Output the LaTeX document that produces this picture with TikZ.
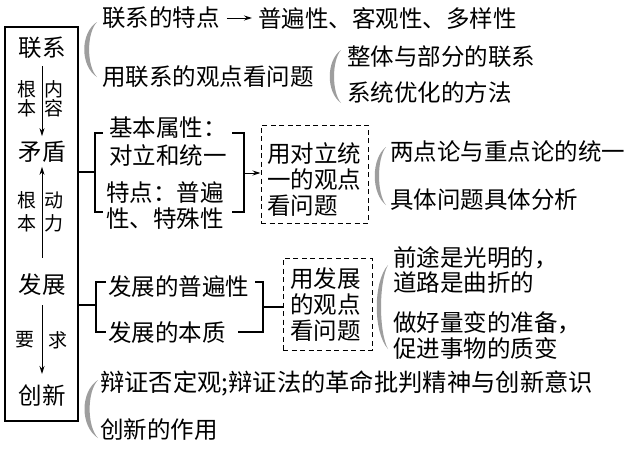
\documentclass[tikz,border=0pt]{standalone}
\usepackage{fontspec}
\setmainfont{Noto Sans CJK SC}
\usetikzlibrary{arrows.meta,calc}
\definecolor{braceg}{HTML}{9E9E9E}
\newcommand\graybrace[4]{%
  \fill[braceg] (#1,#2) .. controls ({#1-#4},{#2+0.2*(#3-#2)}) and ({#1-#4},{#2+0.8*(#3-#2)}) .. (#1,#3)
    .. controls ({#1-0.62*#4},{#2+0.8*(#3-#2)}) and ({#1-0.62*#4},{#2+0.2*(#3-#2)}) .. (#1,#2) -- cycle;}
\begin{document}
\begin{tikzpicture}[x=1pt,y=-1pt,
  txt/.style={anchor=west,inner sep=0pt,font=\fontsize{23.5}{26}\selectfont},
  mtxt/.style={anchor=west,inner sep=0pt,align=left,font=\fontsize{23.5}{26}\selectfont},
  boxt/.style={inner sep=0pt,font=\fontsize{23.5}{26}\selectfont},
  lbl/.style={inner sep=0pt,align=center,font=\fontsize{19}{19}\selectfont},
  lblw/.style={inner sep=0pt,align=center,font=\fontsize{19}{23}\selectfont},
  arr/.style={-{Stealth[length=8pt,width=5pt]},line width=0.9pt},
  brk/.style={line width=1.1pt},
  dbox/.style={draw,line width=1pt,dash pattern=on 5pt off 3.5pt,inner sep=0pt},
]
\useasboundingbox (0,0) rectangle (640,453);
\fill[white] (0,0) rectangle (640,453);

% main box
\node[draw,line width=1.3pt,minimum width=73pt,minimum height=394pt,inner sep=0pt] (mb) at (41.5,224) {};
\node[boxt] (lx) at (42,48) {联系};
\node[boxt] (md) at (42,152) {矛盾};
\node[boxt] (fz) at (42,285) {发展};
\node[boxt] (cx) at (42,395) {创新};
\node[lbl] (g1) at (27,99) {根\\本};
\node[lbl] (n1) at (54,99) {内\\容};
\node[lblw] (g2) at (27,211.5) {根\\本};
\node[lblw] (d2) at (54,211.5) {动\\力};
\node[lbl] (y3) at (25,340) {要};
\node[lbl] (q3) at (58,340) {求};
\draw[arr,shorten <=7pt,shorten >=5pt] (lx) -- (md);
\draw[arr,shorten <=16pt,shorten >=4pt] (fz) -- (md);
\draw[arr,shorten <=9pt,shorten >=10pt] (fz) -- (cx);

% top
\node[txt] (t1) at (102,18) {联系的特点};
\node[txt] (t2) at (258,18) {普遍性、客观性、多样性};
\draw[arr,shorten <=7pt,shorten >=6pt] (t1.east) -- (t2.west);
\node[txt] (t3) at (102,77) {用联系的观点看问题};
\node[txt] (t4) at (347,57) {整体与部分的联系};
\node[txt] (t5) at (347,93) {系统优化的方法};
\graybrace{97}{22}{77}{17}
\graybrace{341}{50}{103}{15}

% contradiction
\coordinate (lb1) at (95,172);
\coordinate (rb1) at (244,173);
\draw[brk] (103,133) -- (95,133) -- (95,212) -- (103,212);
\draw[brk] (232,133) -- (244,133) -- (244,212) -- (232,212);
\draw[brk] (mb.east |- lb1) -- (lb1);
\node[txt] (m1) at (109,128) {基本属性：};
\node[txt] (m2) at (109,155) {对立和统一};
\node[txt] (m3) at (106,193) {特点：普遍};
\node[txt] (m4) at (106,219) {性、特殊性};
\node[dbox,minimum width=107pt,minimum height=98pt] (d1) at (314.5,174) {};
\node[mtxt] (d1t) at (267,180) {用对立统\\一的观点\\看问题};
\draw[arr] (rb1) -- (rb1 -| d1.west);
\graybrace{386}{147}{205}{15}
\node[txt] (r1) at (390,152) {两点论与重点论的统一};
\node[txt] (r2) at (390,200) {具体问题具体分析};

% development
\coordinate (lb2) at (96,305);
\coordinate (rb2) at (263,307);
\draw[brk] (106,282) -- (96,282) -- (96,332) -- (106,332);
\draw[brk] (255,282) -- (263,282) -- (263,332) -- (238,332);
\draw[brk] (mb.east |- lb2) -- (lb2);
\node[txt] (l1) at (108,287) {发展的普遍性};
\node[txt] (l2) at (108,333) {发展的本质};
\node[dbox,minimum width=89pt,minimum height=92pt] (d2b) at (327.5,304) {};
\node[mtxt] (d2t) at (290,305) {用发展\\的观点\\看问题};
\draw[brk] (rb2) -- (rb2 -| d2b.west);
\graybrace{388}{265}{349}{15}
\node[txt] (r3) at (393,258) {前途是光明的，};
\node[txt] (r4) at (393,283) {道路是曲折的};
\node[txt] (r5) at (393,323) {做好量变的准备，};
\node[txt] (r6) at (393,348) {促进事物的质变};

% innovation
\graybrace{98}{380}{438}{18}
\node[txt,font=\fontsize{24.3}{26}\selectfont] (b1) at (100,383) {辩证否定观;辩证法的革命批判精神与创新意识};
\node[txt] (b2) at (100,430) {创新的作用};
\end{tikzpicture}
\end{document}
